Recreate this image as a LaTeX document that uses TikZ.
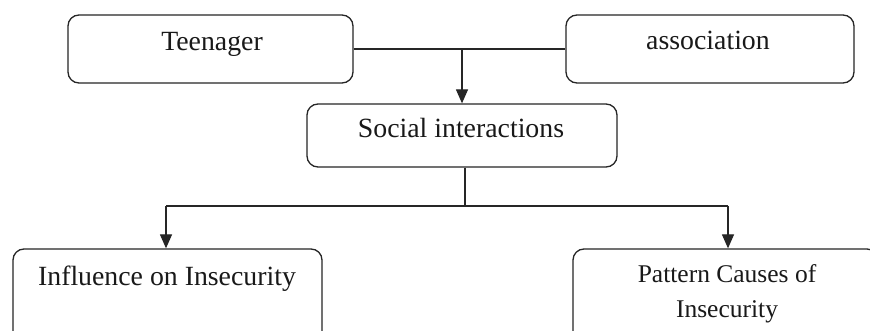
\documentclass[tikz,border=0pt]{standalone}
\usepackage{fontspec}
\setmainfont{Liberation Serif}
\usetikzlibrary{arrows.meta}
\begin{document}
\begin{tikzpicture}[x=1pt,y=1pt,
  box/.style={draw=black!85,line width=1.3pt,rounded corners=11pt,inner sep=0pt},
  lbl/.style={anchor=base,inner sep=0pt,font=\fontsize{27.8}{32}\selectfont,text=black!90},
  small/.style={anchor=base,inner sep=0pt,font=\fontsize{25.5}{30}\selectfont,text=black!90},
  link/.style={draw=black!85,line width=1.3pt},
  arr/.style={link,-{Triangle[width=12pt,length=14pt]}}]
\useasboundingbox (0,0) rectangle (870,-331);
\clip (0,0) rectangle (870,-331);
\fill[white] (0,0) rectangle (870,-331);
% boxes
\node[box,minimum width=285pt,minimum height=68pt] (teen) at (210.5,-49) {};
\node[box,minimum width=288pt,minimum height=68pt] (assoc) at (710,-49) {};
\node[box,minimum width=310pt,minimum height=63pt] (soc) at (462,-135.5) {};
\node[box,minimum width=309pt,minimum height=96pt] (infl) at (167.5,-297) {};
\node[box,minimum width=305pt,minimum height=96pt] (patt) at (725.5,-297) {};
% texts
\node[lbl] (tteen) at (212,-51) {Teenager};
\node[lbl] (tassoc) at (708,-50) {association};
\node[lbl] (tsoc) at (461,-138) {Social interactions};
\node[lbl] (tinfl) at (167,-285) {Influence on Insecurity};
\node[small] (tpatt1) at (727,-282) {Pattern Causes of};
\node[small] (tpatt2) at (727,-317) {Insecurity};
% connectors
\coordinate (j1) at (462,-49);
\coordinate (j2) at (465,-206);
\coordinate (jl) at (166,-206);
\coordinate (jr) at (728,-206);
\draw[link] (teen.east) -- (assoc.west);
\draw[arr] (j1) -- (soc.north);
\draw[link] ([xshift=3pt]soc.south) -- (j2);
\draw[link] (jl) -- (jr);
\draw[arr] (jl) -- (jl |- infl.north);
\draw[arr] (jr) -- (jr |- patt.north);
\end{tikzpicture}
\end{document}
